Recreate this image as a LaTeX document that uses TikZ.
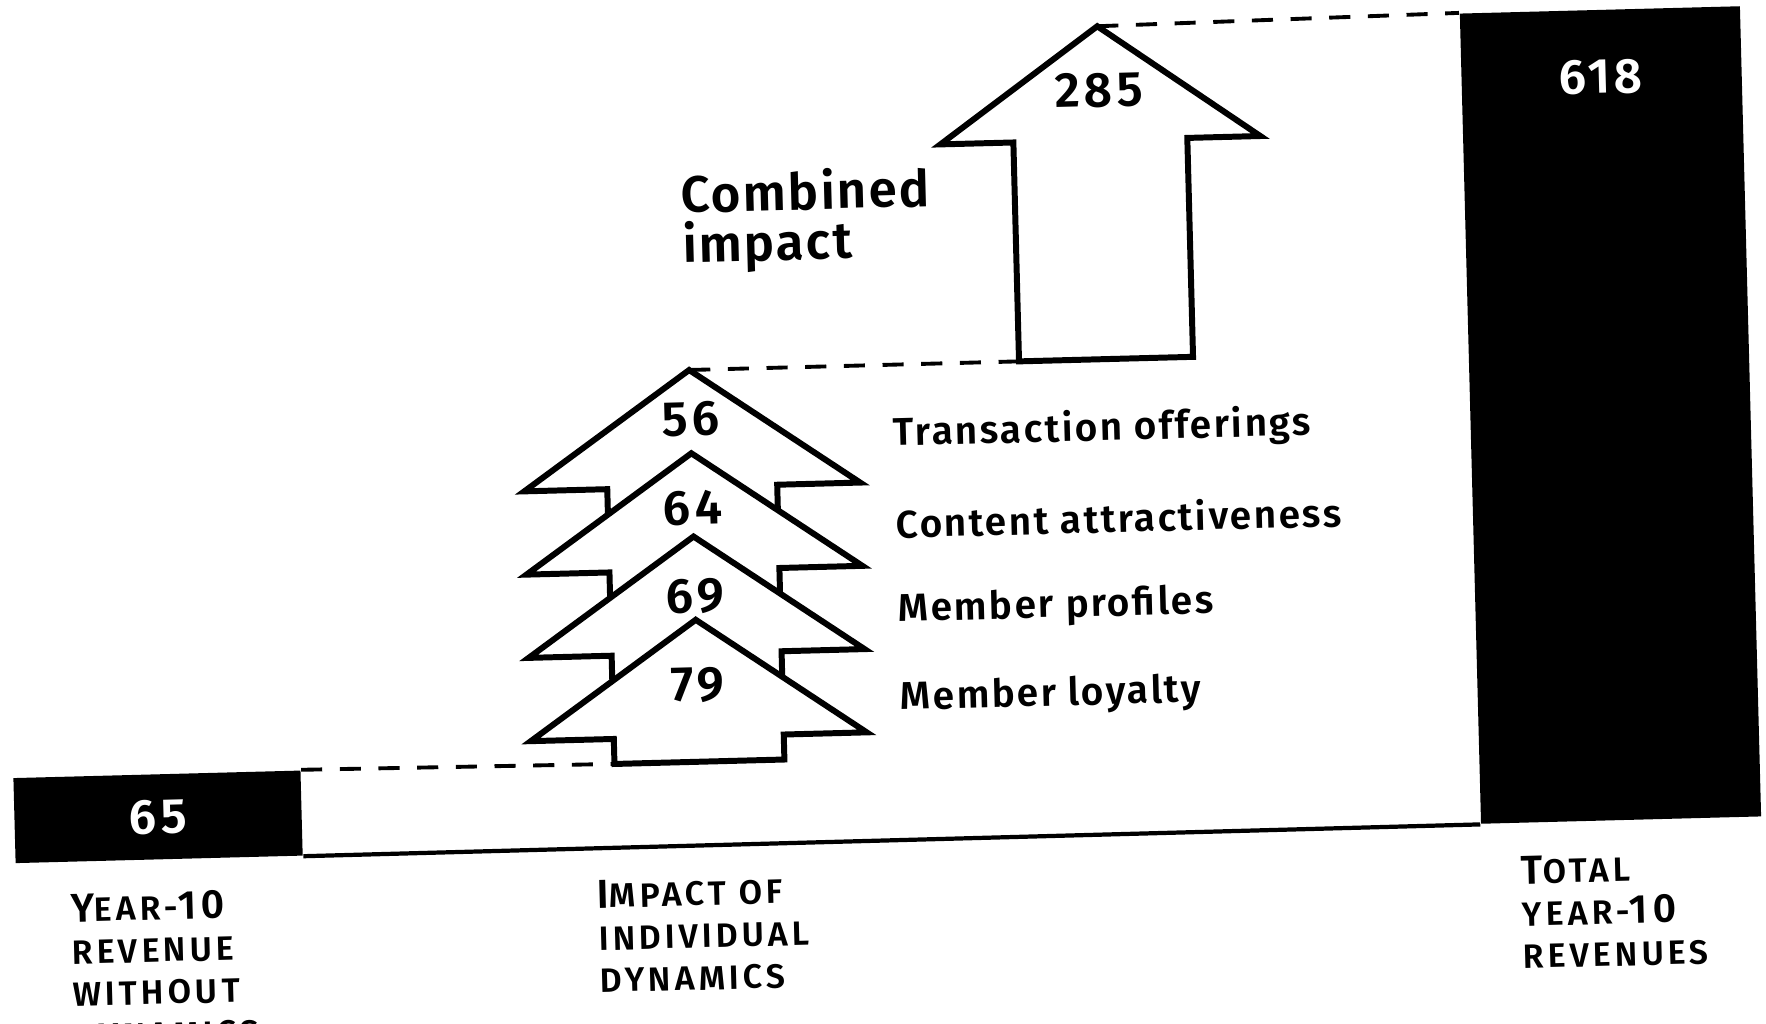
\documentclass[tikz,border=0pt]{standalone}
\usepackage{fontspec}
\setmainfont{Fira Sans}[BoldFont={Fira Sans SemiBold}]
\newcommand\smallcp[1]{{\fontsize{9.6}{12}\selectfont #1}}
\tikzset{
  bar/.style={fill=black, draw=none, inner sep=0pt, text=white},
  arrowline/.style={draw=black, fill=white, line width=1.7pt, line join=miter},
  guide/.style={line width=1.1pt, dash pattern=on 6pt off 5pt},
  axisline/.style={line width=1.2pt},
  num/.style={font=\fontsize{14}{16}\selectfont\bfseries\addfontfeatures{LetterSpace=8}},
  item/.style={anchor=west, inner sep=0pt, font=\fontsize{11}{13}\selectfont\bfseries\addfontfeatures{LetterSpace=6}},
  cat/.style={anchor=north west, inner sep=0pt, align=left,
    font=\fontsize{11.5}{12}\selectfont\bfseries\addfontfeatures{LetterSpace=12}}
}
\begin{document}
\begin{tikzpicture}[x=0.01cm, y=-0.01cm]
  \clip (0,0) rectangle (1766,1024);
  \fill[white] (0,0) rectangle (1766,1024);
  \begin{scope}[rotate around={1.5:(883,512)}, transform shape]
    % bars
    \node (B0) [bar, num, anchor=south west, minimum width=2.87cm, minimum height=0.85cm] at (6,841) {65};
    \node (B1) [bar, anchor=south west, minimum width=2.8cm, minimum height=8.1cm] at (1472,840) {};
    \node (N618) [num, text=white] at (1612,96) {618};
    \draw[axisline] (B0.south east) -- (B1.south west);
    % individual dynamics, drawn top to bottom
    \foreach \v/\t [count=\i] in {56/Transaction offerings, 64/Content attractiveness,
        69/Member profiles, 79/Member loyalty} {
      \pgfmathsetmacro\tip{365+83.3*(\i-1)}
      \pgfmathsetmacro\base{\tip+142}
      \coordinate (S\i) at (693,\tip);
      \coordinate (S\i b) at (608,\base);
      \draw[arrowline] (S\i) -- ++(168,117) -- ++(-83,0) -- ++(0,25) -- ++(-170,0)
        -- ++(0,-25) -- ++(-83,0) -- cycle;
      \node (N\i) [num] at (693,{414+88.7*(\i-1)}) {\v};
      \node (L\i) [item] at (895,{435+88.3*(\i-1)}) {\t};
    }
    % combined impact
    \coordinate (Ct) at (1110,32);
    \coordinate (Cb) at (1023,365);
    \draw[arrowline] (Ct) -- (1270,146) -- (1197,146) -- (1197,365) -- (Cb)
      -- (1023,146) -- (950,146) -- cycle;
    \node (N285) [num] at (1110,96) {285};
    \node (CI) [anchor=north west, inner sep=0pt, align=left,
      font=\fontsize{14.5}{14.2}\selectfont\bfseries\addfontfeatures{LetterSpace=4}]
      at (689,166) {Combined\\impact};
    % guides
    \draw[guide] (B0.north east) -- (S4b);
    \draw[guide] (S1) -- (Cb);
    \draw[guide] (Ct) -- (B1.north west);
    % categories
    \node (T0) [cat] at (60,872) {Y\smallcp{EAR-}10\\\smallcp{REVENUE}\\\smallcp{WITHOUT}\\\smallcp{DYNAMICS}};
    \node (T1) [cat] at (587,872) {I\smallcp{MPACT OF}\\\smallcp{INDIVIDUAL}\\\smallcp{DYNAMICS}};
    \node (T2) [cat] at (1511,872) {T\smallcp{OTAL}\\\smallcp{YEAR-}10\\\smallcp{REVENUES}};
  \end{scope}
\end{tikzpicture}
\end{document}
